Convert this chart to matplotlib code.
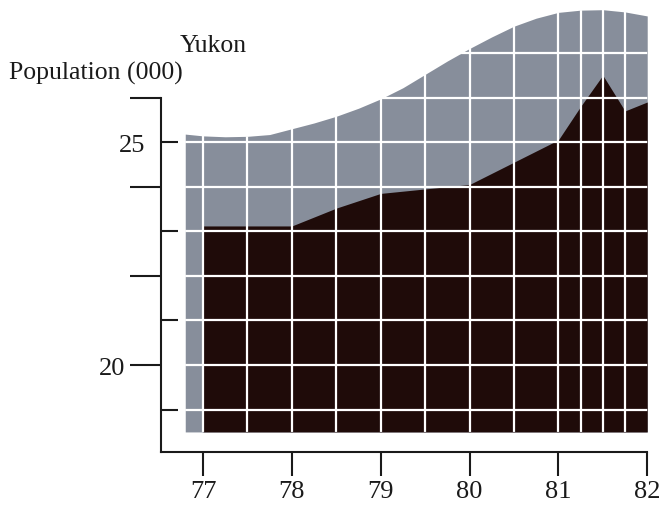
import numpy as np
import matplotlib.pyplot as plt
from matplotlib.ticker import FixedLocator, FixedFormatter

# upper band (smooth grey envelope), read every quarter year
band_x = [76.8, 77.0, 77.25, 77.5, 77.75, 78.0, 78.25, 78.5, 78.75, 79.0, 79.25,
          79.5, 79.75, 80.0, 80.25, 80.5, 80.75, 81.0, 81.25, 81.5, 81.75, 82.0]
band_top = [25.18, 25.14, 25.12, 25.13, 25.17, 25.30, 25.43, 25.58, 25.76, 25.97, 26.22,
            26.52, 26.82, 27.10, 27.36, 27.60, 27.78, 27.91, 27.96, 27.97, 27.92, 27.83]

# population (000)
year = [77.0, 78.0, 78.5, 79.0, 80.0, 81.0, 81.25, 81.5, 81.75, 82.0]
pop = [23.12, 23.12, 23.52, 23.85, 24.05, 25.05, 25.80, 26.50, 25.70, 25.90]

base = 18.5
grid_x = [77, 77.5, 78, 78.5, 79, 79.5, 80, 80.5, 81, 81.25, 81.5, 81.75]
grid_y = [19, 20, 21, 22, 23, 24, 25, 26, 27]

xticks = [77, 78, 79, 80, 81, 82]
major_y = [20, 22, 24, 26]
major_lbl = ['20', '', '', '']
minor_y = [19, 21, 23, 25]
minor_lbl = ['', '', '', '25']

grey = '#878e9b'
dark = '#1f0b09'
ink = '#1a1a1a'
serif = ['Liberation Serif', 'DejaVu Serif']

fig = plt.figure(figsize=(6.61, 5.06), dpi=100)
ax = fig.add_axes([161/661, 53/506, 488/661, 453/506])

band = ax.fill_between(band_x, base, band_top, color=grey, lw=0, zorder=1)
ax.fill_between(year, base, pop, color=dark, lw=0, zorder=1.5)

# white grid only shows inside the grey envelope
clip = band.get_paths()[0]
vl = ax.vlines(grid_x, base, 29, colors='white', lw=1.6, zorder=2)
hl = ax.hlines(grid_y, 76.7, 82.1, colors='white', lw=1.6, zorder=2)
vl.set_clip_path(clip, ax.transData)
hl.set_clip_path(clip, ax.transData)

ax.set_xlim(76.527, 82.02)
ax.set_ylim(18.05, 28.21)

for s in ['top', 'right']:
    ax.spines[s].set_visible(False)
ax.spines['left'].set_bounds(18.05, 26)
ax.spines['bottom'].set_bounds(76.527, 82)
for s in ['left', 'bottom']:
    ax.spines[s].set_linewidth(1.5)
    ax.spines[s].set_color(ink)

ax.set_xticks(xticks)
ax.set_xticklabels([str(v) for v in xticks])
ax.tick_params(axis='x', direction='out', length=17, width=1.5, color=ink, pad=3)

ax.yaxis.set_major_locator(FixedLocator(major_y))
ax.yaxis.set_major_formatter(FixedFormatter(major_lbl))
ax.yaxis.set_minor_locator(FixedLocator(minor_y))
ax.yaxis.set_minor_formatter(FixedFormatter(minor_lbl))
ax.tick_params(axis='y', which='major', direction='out', length=22, width=1.5, color=ink, pad=4)
ax.tick_params(axis='y', which='minor', direction='in', length=12, width=1.5, color=ink, pad=11)

for lbl in ax.get_xticklabels() + ax.get_yticklabels() + ax.get_yticklabels(minor=True):
    lbl.set_family(serif)
    lbl.set_fontsize(19)
    lbl.set_color(ink)

fig.text(180/661, 1 - 52/506, 'Yukon', family=serif, fontsize=18.5, color=ink,
         ha='left', va='baseline')
fig.text(9/661, 1 - 80/506, 'Population (000)', family=serif, fontsize=18.5, color=ink,
         ha='left', va='baseline')

fig.savefig('out.png', dpi=100)
